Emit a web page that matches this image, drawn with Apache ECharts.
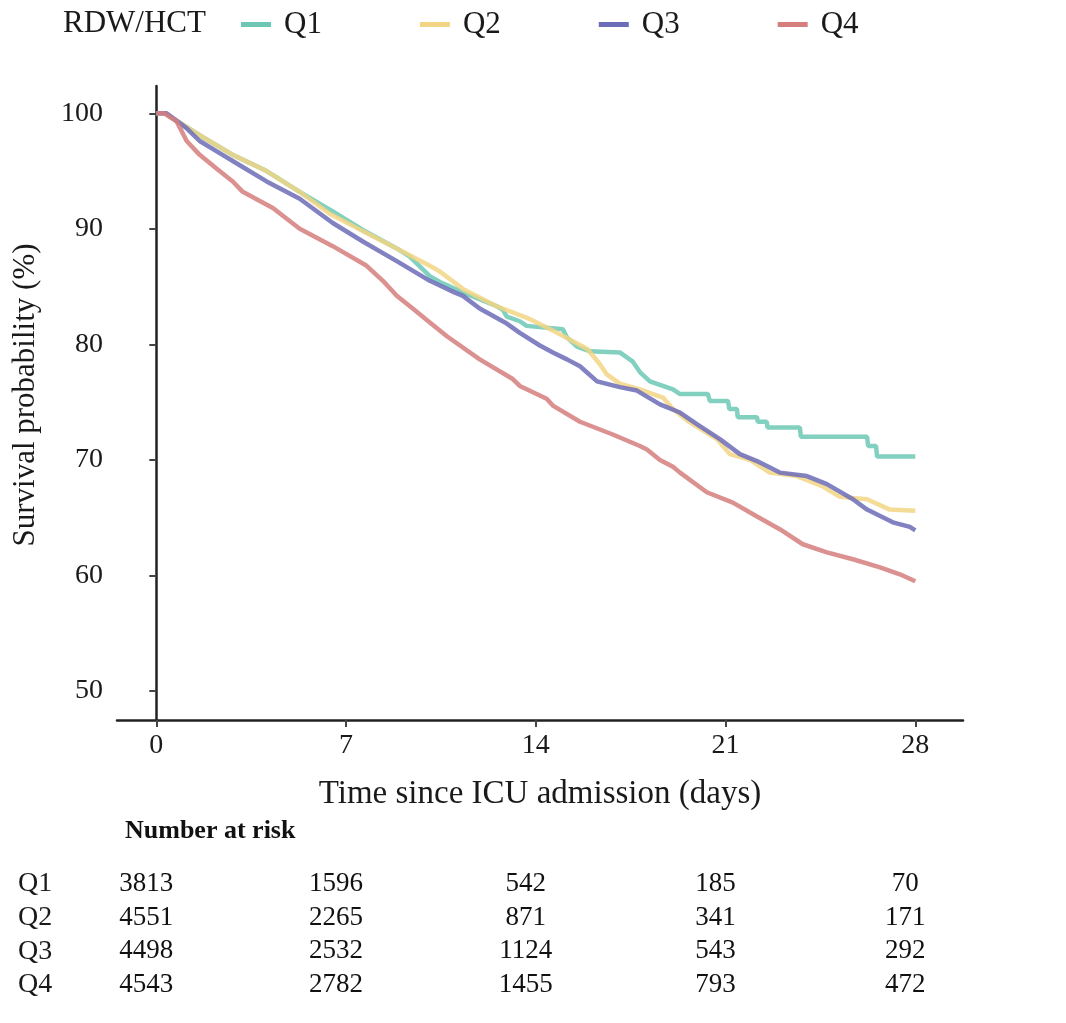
<!DOCTYPE html>
<html>
<head>
<meta charset="utf-8">
<title>Survival by RDW/HCT quartile</title>
<script src="https://cdn.jsdelivr.net/npm/echarts@6/dist/echarts.min.js"></script>
<style>
  html, body { margin: 0; padding: 0; background: #fff; }
  #main { width: 1066px; height: 1023px; }
</style>
</head>
<body>
<div id="main"></div>
<script>
// survival curves, [day, survival %]
const q1 = [[0,100],[0.31,100],[1.6,98.1],[2.82,96.4],[4.07,95.0],[5.29,93.2],[6.51,91.5],[7.62,89.9],
  [8.87,88.3],[9.35,87.6],[10.09,85.9],[10.46,85.4],[11.31,84.5],[12.56,83.3],[12.78,83.0],[12.93,82.4],
  [13.41,82.0],[13.66,81.6],[15.0,81.3],[15.15,80.6],[15.52,79.8],[16.0,79.4],[17.1,79.3],[17.58,78.5],
  [17.84,77.6],[18.21,76.8],[19.06,76.1],[19.32,75.7],[20.35,75.7],[20.42,75.1],[21.09,75.1],[21.14,74.4],
  [21.42,74.4],[21.45,73.7],[22.16,73.7],[22.19,73.3],[22.52,73.3],[22.55,72.8],[23.74,72.8],[23.78,72.0],
  [26.22,72.0],[26.26,71.2],[26.55,71.2],[26.59,70.3],[28,70.3]]
const q2 = [[0,100],[0.31,100],[1.6,98.1],[2.82,96.4],[4.07,95.0],[5.29,93.2],[6.4,91.3],[7.62,89.8],
  [8.87,88.3],[10.09,86.8],[10.46,86.3],[11.31,84.8],[12.56,83.3],[13.77,82.2],[14.63,81.2],[15.9,79.6],
  [16.36,78.3],[16.62,77.4],[17.1,76.6],[17.84,76.1],[18.69,75.4],[19.06,74.4],[19.58,73.4],[20.68,71.8],
  [21.16,70.5],[21.9,70.0],[22.63,68.9],[23.63,68.6],[24.59,67.7],[25.22,66.8],[26.22,66.6],[27.06,65.7],
  [28,65.6]]
const q3 = [[0,100],[0.38,100],[1.12,98.7],[1.6,97.6],[2.23,96.7],[3.08,95.5],[4.07,94.1],[5.29,92.6],
  [6.51,90.5],[7.62,88.9],[8.87,87.2],[10.09,85.5],[10.46,85.1],[11.0,84.5],[11.31,84.2],[11.93,83.1],
  [12.93,81.8],[13.41,81.0],[14.15,79.9],[14.63,79.3],[15.15,78.7],[15.63,78.1],[16.26,76.8],[17.1,76.3],
  [17.73,76.0],[18.58,74.8],[19.32,74.1],[19.94,73.1],[20.79,71.8],[21.53,70.5],[22.16,69.9],[23.0,68.9],
  [24.0,68.6],[24.74,67.9],[25.7,66.6],[26.22,65.7],[27.17,64.6],[27.8,64.2],[28,63.9]]
const q4 = [[0,100],[0.3,100],[0.75,99.3],[1.12,97.6],[1.6,96.4],[2.23,95.2],[2.82,94.1],[3.19,93.2],
  [3.82,92.4],[4.3,91.8],[5.29,90.0],[6.51,88.5],[7.76,86.8],[8.36,85.5],[8.87,84.2],[9.46,83.1],
  [10.09,81.9],[10.72,80.7],[11.93,78.7],[13.15,77.0],[13.41,76.4],[14.4,75.3],[14.63,74.7],[15.63,73.3],
  [16.84,72.2],[17.84,71.2],[18.1,70.9],[18.58,70.0],[19.06,69.4],[19.32,68.9],[20.31,67.2],[21.27,66.3],
  [22.16,65.1],[23.0,64.0],[23.85,62.7],[24.74,62.0],[25.7,61.4],[26.7,60.7],[27.43,60.1],[28,59.5]]

const groups = ['Q1', 'Q2', 'Q3', 'Q4']
const colors = ['#6cc8b4', '#f2d584', '#6c6cb8', '#d67e7e']
const xTicks = [0, 7, 14, 21, 28]
const yTicks = [50, 60, 70, 80, 90, 100]

// number at risk at each tick day
const riskQ1 = [3813, 1596, 542, 185, 70]
const riskQ2 = [4551, 2265, 871, 341, 171]
const riskQ3 = [4498, 2532, 1124, 543, 292]
const riskQ4 = [4543, 2782, 1455, 793, 472]

const font = 'Liberation Serif, Times New Roman, serif'
const curves = [q1, q2, q3, q4]
const risks = [riskQ1, riskQ2, riskQ3, riskQ4]

var myChart = echarts.init(document.getElementById('main'))

const lineSeries = curves.map((d, i) => ({
  name: groups[i],
  type: 'line',
  xAxisIndex: 0,
  yAxisIndex: 0,
  data: d,
  showSymbol: false,
  symbol: 'none',
  color: colors[i],
  lineStyle: { width: 4.5, color: colors[i], opacity: 0.85 },
  emphasis: { disabled: true }
}))

// risk table: one text-only scatter per group
const riskSeries = risks.map((r, i) => ({
  name: 'risk' + groups[i],
  type: 'scatter',
  xAxisIndex: 1,
  yAxisIndex: 1,
  symbolSize: 1,
  itemStyle: { color: 'rgba(0,0,0,0)' },
  data: r.map((n, j) => [xTicks[j], groups[i], n]),
  label: {
    show: true,
    position: 'inside',
    formatter: p => p.value[2],
    fontFamily: font,
    fontSize: 27,
    color: '#111',
    opacity: 1
  },
  emphasis: { disabled: true }
}))

myChart.setOption({
  animation: false,
  backgroundColor: '#fff',
  title: {
    text: 'RDW/HCT',
    left: 58,
    top: 3,
    textStyle: { fontFamily: font, fontSize: 31, fontWeight: 'normal', color: '#1a1a1a' }
  },
  legend: {
    data: groups,
    left: 236,
    top: 4,
    icon: 'rect',
    itemWidth: 30,
    itemHeight: 5,
    itemGap: 98,
    textStyle: { fontFamily: font, fontSize: 31, color: '#1a1a1a', padding: [0, 0, 0, 8] }
  },
  graphic: [{
    type: 'text',
    left: 125,
    top: 818,
    style: { text: 'Number at risk', fontFamily: font, fontSize: 26, fontWeight: 'bold', fill: '#111' }
  }],
  grid: [
    { left: 117, right: 103, top: 86, bottom: 303 },
    { left: 107, right: 113, top: 867, height: 135 }
  ],
  xAxis: [{
    type: 'value',
    gridIndex: 0,
    min: -1.45,
    max: 29.76,
    name: 'Time since ICU admission (days)',
    nameLocation: 'middle',
    nameGap: 58,
    nameTextStyle: { fontFamily: font, fontSize: 33, color: '#1a1a1a' },
    splitLine: { show: false },
    axisLine: { show: true, lineStyle: { color: '#222', width: 2.5 } },
    axisTick: { show: true, customValues: xTicks, length: 7, lineStyle: { color: '#444', width: 2 } },
    axisLabel: { customValues: xTicks, margin: 12, fontFamily: font, fontSize: 28, color: '#1a1a1a' }
  }, {
    type: 'value',
    gridIndex: 1,
    min: -1.45,
    max: 29.76,
    show: false
  }],
  yAxis: [{
    type: 'value',
    gridIndex: 0,
    min: 47.49,
    max: 102.36,
    name: 'Survival probability (%)',
    nameLocation: 'middle',
    nameRotate: 90,
    nameGap: 76,
    nameTextStyle: { fontFamily: font, fontSize: 31, color: '#1a1a1a', padding: [0, 0, 0, 16] },
    splitLine: { show: false },
    axisLine: { show: true, lineStyle: { color: '#222', width: 2.5 } },
    axisTick: { show: true, customValues: yTicks, length: 7, lineStyle: { color: '#444', width: 2 } },
    axisLabel: { customValues: yTicks, margin: 14, fontFamily: font, fontSize: 28, color: '#1a1a1a' }
  }, {
    type: 'category',
    gridIndex: 1,
    data: groups,
    inverse: true,
    axisLine: { show: false },
    axisTick: { show: false },
    splitLine: { show: false },
    axisLabel: { interval: 0, align: 'left', margin: 89, fontFamily: font, fontSize: 28, color: '#1a1a1a' }
  }],
  series: lineSeries.concat(riskSeries)
})
</script>
</body>
</html>
